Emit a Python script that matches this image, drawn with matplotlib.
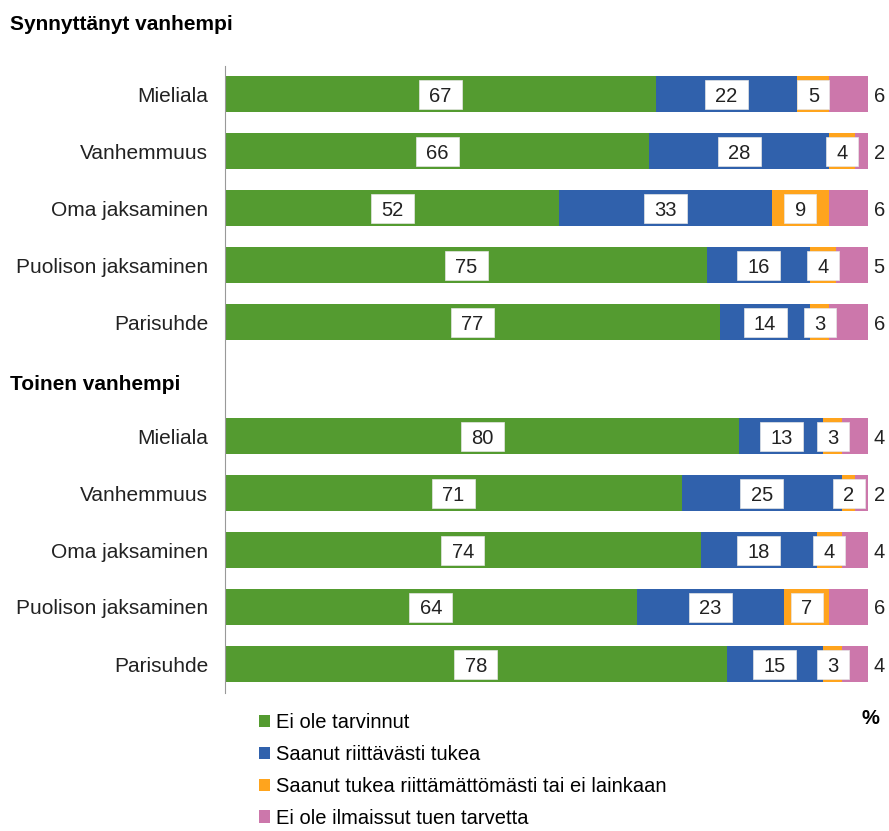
import matplotlib.pyplot as plt
from matplotlib.patches import Patch, Rectangle
import numpy as np

plt.rcParams['font.family'] = ['Liberation Sans', 'DejaVu Sans']

# data
groups = ["Synnyttänyt vanhempi", "Toinen vanhempi"]
categories = ["Mieliala", "Vanhemmuus", "Oma jaksaminen", "Puolison jaksaminen", "Parisuhde"]
series_names = ["Ei ole tarvinnut", "Saanut riittävästi tukea",
                "Saanut tukea riittämättömästi tai ei lainkaan", "Ei ole ilmaissut tuen tarvetta"]
ei_tarvinnut = [67, 66, 52, 75, 77, 80, 71, 74, 64, 78]
riittavasti = [22, 28, 33, 16, 14, 13, 25, 18, 23, 15]
riittamattomasti = [5, 4, 9, 4, 3, 3, 2, 4, 7, 3]
ei_ilmaissut = [6, 2, 6, 5, 6, 4, 2, 4, 6, 4]

colors = ["#549B30", "#3061AC", "#FFA41D", "#CC77AB"]
values = np.array([ei_tarvinnut, riittavasti, riittamattomasti, ei_ilmaissut])

FS = 14.5
W, H = 889, 831
fig = plt.figure(figsize=(W / 100, H / 100), dpi=100)
ax_l, ax_r, ax_t, ax_b = 225, 868, 65.5, 692.5
ax = fig.add_axes([ax_l / W, 1 - ax_b / H, (ax_r - ax_l) / W, (ax_b - ax_t) / H])

ypos = np.array([0, 1, 2, 3, 4, 6, 7, 8, 9, 10])
px_x = 100 / (ax_r - ax_l)        # data units per pixel in x
px_y = 11 / (ax_b - ax_t)         # rows per pixel in y

left = np.zeros(len(ypos))
for i in range(4):
    ax.barh(ypos, values[i], left=left, height=0.63, color=colors[i], edgecolor='none')
    for y, l, v in zip(ypos, left, values[i]):
        if i < 3:
            cx = l + v / 2
            bw = (21 + 11 * len(str(v))) * px_x
            bh = 29 * px_y
            ax.add_patch(Rectangle((cx - bw / 2, y - bh / 2), bw, bh,
                                   facecolor='white', edgecolor='#e6e6e6', lw=0.5, zorder=3))
            ax.text(cx, y, str(v), ha='center', va='center_baseline', fontsize=FS,
                    color='#222222', zorder=4)
        else:
            ax.annotate(str(v), (l + v, y), xytext=(4, 0), textcoords='offset points',
                        ha='left', va='center_baseline', fontsize=FS, color='#222222')
    left = left + values[i]

ax.set_xlim(0, 100)
ax.set_ylim(10.5, -0.5)
ax.set_yticks(ypos)
ax.set_yticklabels(categories * 2, fontsize=15, color='#222222')
ax.tick_params(axis='y', length=0, pad=12)
ax.set_xticks([])
for s in ['top', 'right', 'bottom']:
    ax.spines[s].set_visible(False)
ax.spines['left'].set_color('#999999')
ax.spines['left'].set_linewidth(0.8)

fig.text(10 / W, 1 - 25 / H, groups[0], fontsize=15, fontweight='bold', va='center', ha='left')
fig.text(10 / W, 1 - 385 / H, groups[1], fontsize=15, fontweight='bold', va='center', ha='left')
fig.text(870 / W, 1 - 718 / H, "%", fontsize=FS, fontweight='bold', va='center', ha='center')

handles = [Patch(facecolor=c, edgecolor='none') for c in colors]
fig.legend(handles, series_names, loc='upper left', bbox_to_anchor=(259 / W, 1 - 713 / H),
           frameon=False, fontsize=FS, handlelength=0.55, handleheight=0.55,
           handletextpad=0.3, labelspacing=0.64, borderaxespad=0, borderpad=0)

fig.savefig("out.png", dpi=100)
